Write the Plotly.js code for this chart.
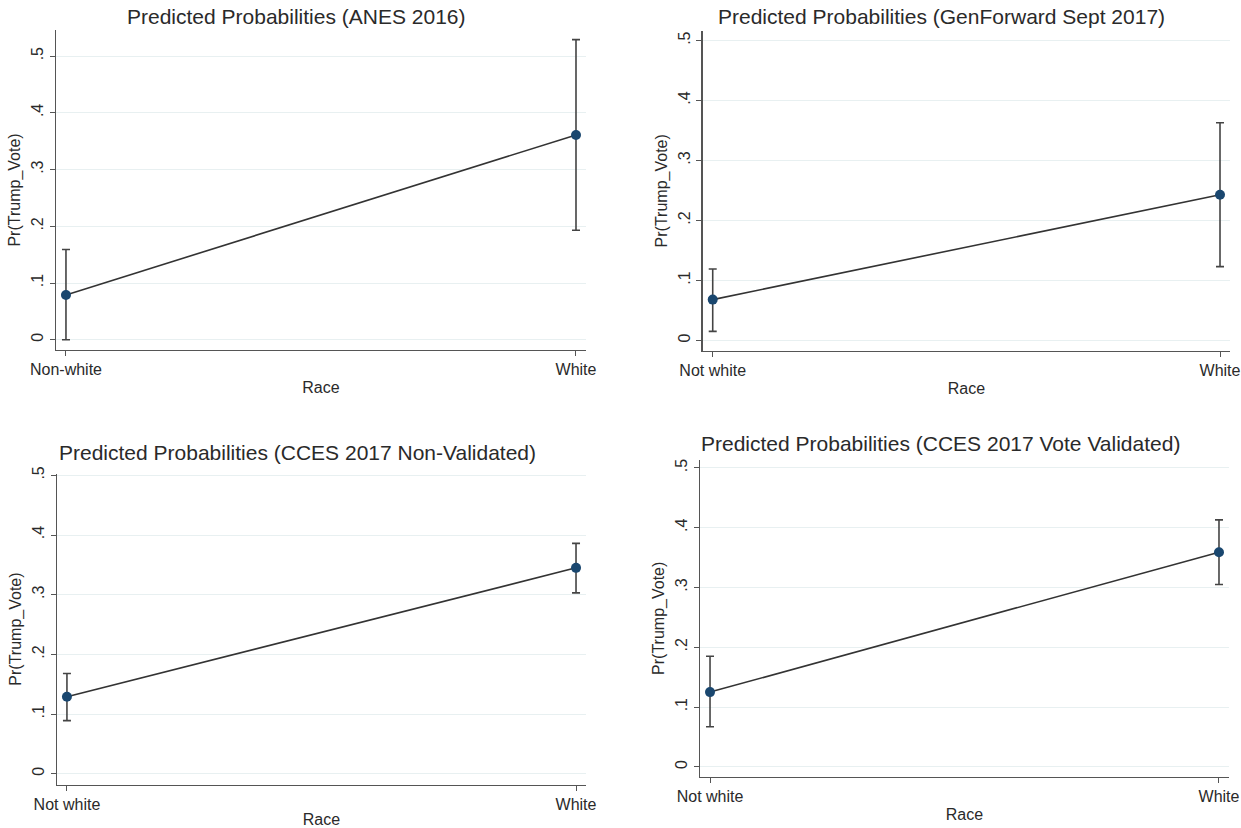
<!DOCTYPE html>
<html>
<head>
<meta charset="utf-8">
<script src="https://cdn.plot.ly/plotly-3.0.1.min.js"></script>
<style>html,body{margin:0;padding:0;background:#fff;}#chart{width:1241px;height:828px;}</style>
</head>
<body>
<div id="chart"></div>
<script>
// ---- Data ----
const titles = [
  "Predicted Probabilities (ANES 2016)",
  "Predicted Probabilities (GenForward Sept 2017)",
  "Predicted Probabilities (CCES 2017 Non-Validated)",
  "Predicted Probabilities (CCES 2017 Vote Validated)"
];
const categories1 = ["Non-white", "White"];
const categories2 = ["Not white", "White"];
const categories3 = ["Not white", "White"];
const categories4 = ["Not white", "White"];

const est1 = [0.079, 0.361];
const upper1 = [0.159, 0.529];
const lower1 = [0.000, 0.193];

const est2 = [0.068, 0.243];
const upper2 = [0.119, 0.363];
const lower2 = [0.015, 0.123];

const est3 = [0.129, 0.345];
const upper3 = [0.168, 0.386];
const lower3 = [0.089, 0.303];

const est4 = [0.125, 0.359];
const upper4 = [0.185, 0.413];
const lower4 = [0.067, 0.305];

const yTickVals = [0, 0.1, 0.2, 0.3, 0.4, 0.5];
const yTickText = ["0", ".1", ".2", ".3", ".4", ".5"];
const xTitle = "Race";
const yTitle = "Pr(Trump_Vote)";

// ---- Layout geometry ----
const panels = [
  {cats: categories1, est: est1, up: upper1, lo: lower1, xd: [0.0451, 0.4722], yd: [0.5773, 0.9638], yr: [-0.018, 0.546], tx: 0.2386, ty: 1 - 17/828},
  {cats: categories2, est: est2, up: upper2, lo: lower2, xd: [0.5663, 0.9911], yd: [0.5766, 0.9626], yr: [-0.017, 0.516], tx: 0.7590, ty: 1 - 17/828},
  {cats: categories3, est: est3, up: upper3, lo: lower3, xd: [0.0459, 0.4722], yd: [0.0525, 0.4281], yr: [-0.018, 0.503], tx: 0.2400, ty: 1 - 452/828},
  {cats: categories4, est: est4, up: upper4, lo: lower4, xd: [0.5641, 0.9903], yd: [0.0616, 0.4450], yr: [-0.017, 0.514], tx: 0.7575, ty: 1 - 443/828}
];

const font = "Liberation Sans, Arial, Helvetica, sans-serif";
const axisColor = "#555555";
const textColor = "#2a2a2a";
const data = [];
const layout = {
  width: 1241, height: 828,
  margin: {l: 0, r: 0, t: 0, b: 0},
  paper_bgcolor: "#ffffff",
  plot_bgcolor: "#ffffff",
  showlegend: false,
  font: {family: font, color: textColor},
  annotations: []
};

panels.forEach((p, i) => {
  const n = i + 1;
  const xa = n === 1 ? "x" : "x" + n;
  const ya = n === 1 ? "y" : "y" + n;
  data.push({
    type: "scatter", mode: "lines+markers",
    x: p.cats, y: p.est,
    xaxis: xa, yaxis: ya,
    line: {color: "#333333", width: 1.6},
    marker: {color: "#1a476f", size: 10},
    error_y: {
      type: "data", symmetric: false,
      array: p.up.map((u, k) => u - p.est[k]),
      arrayminus: p.est.map((e, k) => e - p.lo[k]),
      color: "#444444", thickness: 1.6, width: 4
    },
    cliponaxis: false,
    hoverinfo: "skip"
  });
  layout["xaxis" + (n === 1 ? "" : n)] = {
    domain: p.xd, anchor: ya, type: "category",
    range: [-0.0196, 1.0196],
    showline: true, linecolor: axisColor, linewidth: 1.3,
    showgrid: false, zeroline: false,
    ticks: "outside", ticklen: 5, tickcolor: axisColor, tickwidth: 1,
    tickfont: {size: 16, family: font, color: textColor},
    title: {text: xTitle, font: {size: 16, family: font, color: textColor}, standoff: 4},
    fixedrange: true
  };
  layout["yaxis" + (n === 1 ? "" : n)] = {
    domain: p.yd, anchor: xa,
    range: p.yr,
    tickvals: yTickVals, ticktext: yTickText, tickangle: -90,
    showline: true, linecolor: axisColor, linewidth: 1.3,
    showgrid: true, gridcolor: "#e8f0f1", gridwidth: 1,
    zeroline: false,
    ticks: "outside", ticklen: 5, tickcolor: axisColor, tickwidth: 1,
    tickfont: {size: 16, family: font, color: textColor},
    title: {text: yTitle, font: {size: 16, family: font, color: textColor}, standoff: 4},
    fixedrange: true
  };
  layout.annotations.push({
    xref: "paper", yref: "paper", x: p.tx, y: p.ty,
    xanchor: "center", yanchor: "middle", showarrow: false,
    text: titles[i], font: {size: 21, family: font, color: textColor}
  });
});

Plotly.newPlot("chart", data, layout, {displayModeBar: false, staticPlot: true});
</script>
</body>
</html>
